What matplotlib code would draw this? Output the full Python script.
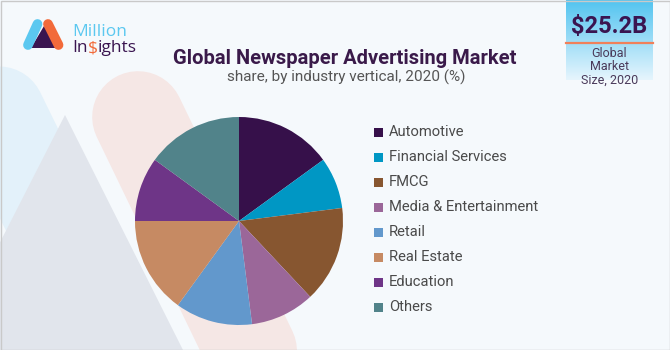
import matplotlib
matplotlib.use("Agg")
import matplotlib.pyplot as plt
import numpy as np
from matplotlib.lines import Line2D
from matplotlib.patches import Polygon, Rectangle

categories = ["Automotive", "Financial Services", "FMCG", "Media & Entertainment",
              "Retail", "Real Estate", "Education", "Others"]
shares = [15, 8, 15, 10, 12, 15, 10, 15]
colors = ["#36104a", "#0097c4", "#875630", "#9b6799",
          "#6298cc", "#c68a63", "#6e3587", "#51838a"]

title = "Global Newspaper Advertising Market"
subtitle = "share, by industry vertical, 2020 (%)"
market_value = "$25.2B"
market_label = "Global\nMarket\nSize, 2020"

W, H = 670, 350
fig = plt.figure(figsize=(W / 100, H / 100), dpi=100)
fig.patch.set_facecolor("#f5f9fc")

bg = fig.add_axes([0, 0, 1, 1])
bg.set_xlim(0, W)
bg.set_ylim(H, 0)
bg.axis("off")
bg.set_facecolor("#f5f9fc")

# decorative background bands
bg.add_line(Line2D([-8, 140], [98, 400], lw=66, color="#e3f1fa", solid_capstyle="round", zorder=1))
bg.add_line(Line2D([138, 270], [117, 390], lw=66, color="#f5e7e5", solid_capstyle="round", zorder=1))
bg.add_patch(Polygon([(65, 115), (-60, 360), (188, 360)], closed=True, color="#e1e5ec", zorder=2, lw=0))

# border
bg.add_patch(Rectangle((0.5, 0.5), W - 1, H - 1, fill=False, ec="#c9c9c9", lw=1, zorder=10))

# logo
bg.add_patch(Polygon([(31, 48), (44, 26), (57, 48)], closed=True, color="#3a1550", zorder=5, lw=0))
bg.add_line(Line2D([28, 37.5], [45, 24], lw=7, color="#5bc8f0", solid_capstyle="round", zorder=6))
bg.add_line(Line2D([48, 58.5], [24, 45], lw=7, color="#f26a3a", solid_capstyle="round", zorder=6))
logo_fs = 12.5
bg.text(72, 36, "Million", fontsize=logo_fs, color="#5bc8f0", family="Open Sans",
        va="baseline", ha="left", zorder=6)
yb = 52
t1 = bg.text(72, yb, "In", fontsize=logo_fs, color="#3a1550", family="Open Sans",
             va="baseline", ha="left", zorder=6)
fig.canvas.draw()
bb = t1.get_window_extent()
inv = bg.transData.inverted()
x2 = inv.transform((bb.x1, bb.y0))[0]
t2 = bg.text(x2, yb, "$", fontsize=logo_fs, color="#f26a3a", family="Open Sans",
             va="baseline", ha="left", zorder=6)
fig.canvas.draw()
bb = t2.get_window_extent()
x3 = inv.transform((bb.x1, bb.y0))[0]
bg.text(x3, yb, "ights", fontsize=logo_fs, color="#3a1550", family="Open Sans",
        va="baseline", ha="left", zorder=6)

# market size box with gradient
grad = np.linspace(0, 1, 100)[:, None]
c_top = np.array([0x52, 0xc4, 0xf0]) / 255
c_bot = np.array([0xe6, 0xf5, 0xfd]) / 255
img = c_top[None, None, :] * (1 - grad[:, :, None]) + c_bot[None, None, :] * grad[:, :, None]
bg.imshow(img, extent=(566, 653, 80, 0), aspect="auto", zorder=4)
bg.plot([566, 653], [42.5, 42.5], color="#f0805a", lw=1.6, zorder=5)
bg.text(609.5, 27, market_value, fontsize=17, fontweight="bold", color="#3a1550",
        family="Roboto", ha="center", va="center", zorder=6)
bg.text(609.5, 67, market_label, fontsize=9, color="#4a3a5a", family="Roboto",
        ha="center", va="center", linespacing=1.05, zorder=6)
bg.set_xlim(0, W)
bg.set_ylim(H, 0)

# titles
bg.text(345, 58, title, fontsize=14.5, fontweight="bold", color="#3a1a4a", family="Roboto",
        ha="center", va="center", zorder=6)
bg.text(346, 77, subtitle, fontsize=11, color="#555555", family="Roboto",
        ha="center", va="center", zorder=6)

# pie
cx, cy, r = 239, 221, 104
ax = fig.add_axes([(cx - r) / W, (H - cy - r) / H, 2 * r / W, 2 * r / H])
ax.pie(shares, colors=colors, startangle=90, counterclock=False, radius=1,
       wedgeprops=dict(linewidth=0))
ax.set_xlim(-1, 1)
ax.set_ylim(-1, 1)
ax.set_aspect("equal")
ax.axis("off")

# legend
for i, (cat, col) in enumerate(zip(categories, colors)):
    y = 132 + 25 * i
    bg.add_patch(Rectangle((374, y - 4.5), 9, 9, color=col, lw=0, zorder=6))
    bg.text(389, y, cat, fontsize=10.6, color="#4a4a4a", family="Roboto",
            ha="left", va="center", zorder=6)

fig.savefig("out.png", dpi=100, facecolor=fig.get_facecolor())
